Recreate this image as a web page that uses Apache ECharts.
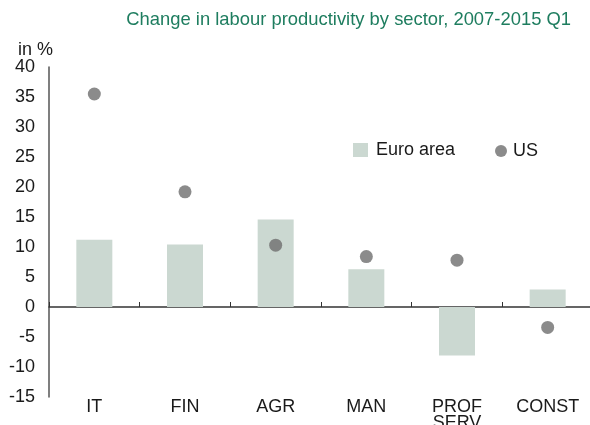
<!DOCTYPE html>
<html>
<head>
<meta charset="utf-8">
<script src="https://cdn.jsdelivr.net/npm/echarts@6/dist/echarts.min.js"></script>
<style>
  html, body { margin: 0; padding: 0; background: #fff; }
  #chart { width: 590px; height: 425px; }
</style>
</head>
<body>
<div id="chart"></div>
<script>
// Sectors and productivity change (in %), 2007 to 2015 Q1
const sectors = ['IT', 'FIN', 'AGR', 'MAN', 'PROF\nSERV', 'CONST'];
const euroArea = [11.2, 10.4, 14.6, 6.3, -8.1, 2.9];
const us = [35.5, 19.2, 10.3, 8.4, 7.8, -3.4];
const yTicks = [-15, -10, -5, 0, 5, 10, 15, 20, 25, 30, 35, 40];

const FONT = '"Liberation Sans", Arial, Helvetica, sans-serif';
const chart = echarts.init(document.getElementById('chart'), null, { renderer: 'canvas' });

chart.setOption({
  animation: false,
  title: {
    text: 'Change in labour productivity by sector, 2007-2015 Q1',
    right: 19,
    top: 11,
    padding: 0,
    textStyle: { color: '#1e7d5f', fontSize: 18.4, fontWeight: 'normal', fontFamily: FONT }
  },
  graphic: [{
    type: 'text',
    left: 18,
    top: 41,
    style: { text: 'in %', fill: '#1a1a1a', font: '18px ' + FONT }
  }],
  legend: [{
    data: ['Euro area'],
    left: 353,
    top: 141,
    padding: 0,
    itemWidth: 15,
    itemHeight: 14,
    icon: 'rect',
    textStyle: { color: '#1a1a1a', fontSize: 18, fontFamily: FONT, padding: [0, 0, 0, 3] }
  }, {
    data: ['US'],
    left: 495,
    top: 142,
    padding: 0,
    itemWidth: 12,
    itemHeight: 12,
    icon: 'circle',
    textStyle: { color: '#1a1a1a', fontSize: 18, fontFamily: FONT, padding: [0, 0, 0, 1] }
  }],
  grid: { left: 49, right: -3, top: 67, bottom: 28, containLabel: false, outerBoundsMode: 'none' },
  xAxis: [{
    type: 'category',
    data: sectors,
    axisLine: { onZero: true, lineStyle: { color: '#333', width: 1.5 } },
    axisTick: { show: true, inside: true, length: 5, lineStyle: { color: '#333' } },
    axisLabel: { show: false },
    splitLine: { show: false }
  }, {
    type: 'category',
    data: sectors,
    position: 'bottom',
    axisLine: { show: false },
    axisTick: { show: false },
    axisLabel: {
      color: '#1a1a1a', fontSize: 18, fontFamily: FONT, lineHeight: 16, margin: 2,
      verticalAlign: 'top'
    }
  }],
  yAxis: {
    type: 'value',
    min: yTicks[0],
    max: yTicks[yTicks.length - 1],
    interval: 5,
    axisLine: { show: true, lineStyle: { color: '#555', width: 1.5 } },
    axisTick: { show: false },
    splitLine: { show: false },
    axisLabel: { color: '#1a1a1a', fontSize: 18, fontFamily: FONT, margin: 14 }
  },
  series: [{
    name: 'Euro area',
    type: 'bar',
    data: euroArea,
    barWidth: 36,
    itemStyle: { color: '#cbd8d1' }
  }, {
    name: 'US',
    type: 'scatter',
    data: us,
    symbol: 'circle',
    symbolSize: 13,
    itemStyle: { color: '#6e6e6e' }
  }]
});
</script>
</body>
</html>
